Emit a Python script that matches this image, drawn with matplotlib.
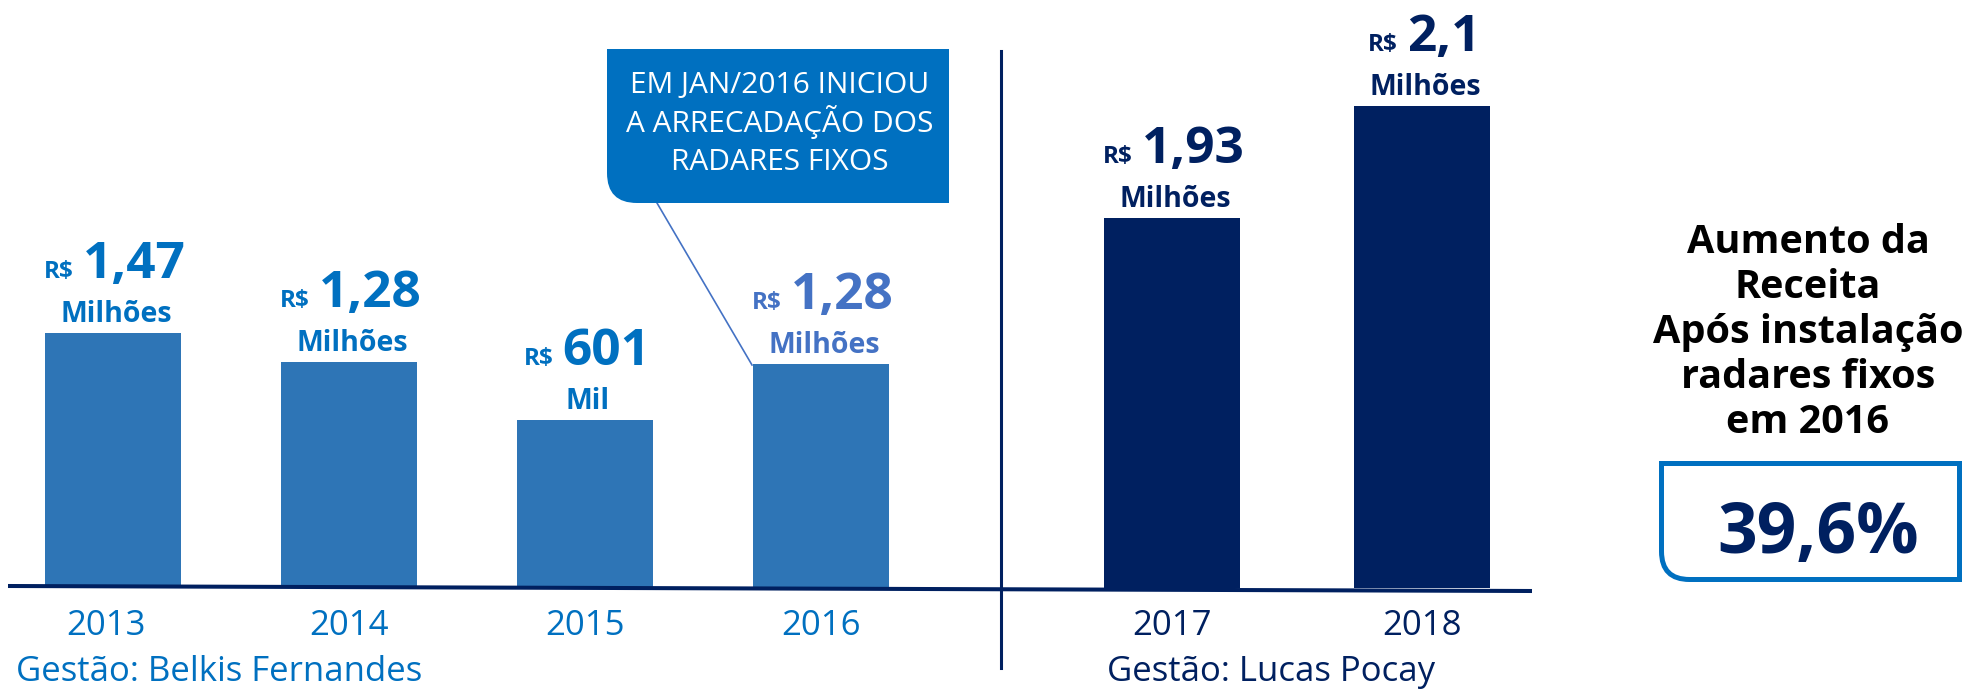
import matplotlib.pyplot as plt
from matplotlib.patches import PathPatch
from matplotlib.path import Path

anos = ['2013', '2014', '2015', '2016', '2017', '2018']
valores = ['1,47', '1,28', '601', '1,28', '1,93', '2,1']
unidades = ['Milhões', 'Milhões', 'Mil', 'Milhões', 'Milhões', 'Milhões']
# altura desenhada das barras (o infográfico original não é proporcional aos valores)
alturas = [1.47, 1.30, 0.97, 1.29, 2.13, 2.78]
gestoes = ['Gestão: Belkis Fernandes', 'Gestão: Lucas Pocay']
titulo_direita = ['Aumento da', 'Receita', 'Após instalação', 'radares fixos', 'em 2016']
aumento = '39,6%'
aviso = ['EM JAN/2016 INICIOU', 'A ARRECADAÇÃO DOS', 'RADARES FIXOS']

AZUL = '#0070C0'
AZUL_BARRA = '#2E75B6'
AZUL_2016 = '#4472C4'
MARINHO = '#002060'
FONTE = 'Open Sans'

cores_barra = [AZUL_BARRA] * 4 + [MARINHO] * 2
cores_rotulo = [AZUL, AZUL, AZUL, AZUL_2016, MARINHO, MARINHO]
cores_ano = [AZUL] * 4 + [MARINHO] * 2

W, H = 1985, 691
BASE = 588.0      # linha de base em pixels (a partir do topo)
ESCALA = 173.5    # pixels por unidade de altura


def py(y_px):
    return (BASE - y_px) / ESCALA


def caixa(x0, y0, x1, y1, r):
    # retângulo com o canto inferior esquerdo arredondado (coordenadas em px)
    verts = [(x0, y0), (x1, y0), (x1, y1), (x0 + r, y1), (x0, y1), (x0, y1 - r), (x0, y0), (x0, y0)]
    codes = [Path.MOVETO, Path.LINETO, Path.LINETO, Path.LINETO,
             Path.CURVE3, Path.CURVE3, Path.LINETO, Path.CLOSEPOLY]
    return Path([(x, py(y)) for x, y in verts], codes)


fig = plt.figure(figsize=(W / 100, H / 100), dpi=100)
ax = fig.add_axes([0, 0, 1, 1])
ax.set_xlim(0, W)
ax.set_ylim(py(H), py(0))
ax.axis('off')

x_centros = [113 + 236 * i for i in range(4)] + [1172, 1422]
ax.bar(x_centros, alturas, width=136, color=cores_barra, zorder=2)

# linha de base (levemente inclinada, como no original) e separador
ax.plot([8, 1532], [py(586), py(591)], color=MARINHO, lw=2.9, zorder=3, solid_capstyle='butt')
ax.plot([1001, 1001], [py(51), py(668)], color=MARINHO, lw=2.2, zorder=3)

renderer = fig.canvas.get_renderer()
for xc, h, val, uni, cor in zip(x_centros, alturas, valores, unidades, cores_rotulo):
    topo = BASE - h * ESCALA
    t1 = ax.text(0, py(topo - 55), 'R$', fontsize=17.5, fontweight='bold', color=cor,
                 family=FONTE, ha='left', va='baseline')
    t2 = ax.text(0, py(topo - 55), val, fontsize=37, fontweight='bold', color=cor,
                 family=FONTE, ha='left', va='baseline')
    w1 = t1.get_window_extent(renderer).width
    w2 = t2.get_window_extent(renderer).width
    inicio = xc + 2 - (w1 + 9 + w2) / 2
    t1.set_x(inicio)
    t2.set_x(inicio + w1 + 9)
    ax.text(xc + 3, py(topo - 11), uni, fontsize=20.5, fontweight='bold', color=cor,
            family=FONTE, ha='center', va='baseline')

for i, (xc, ano, cor) in enumerate(zip(x_centros, anos, cores_ano)):
    desloc = -7 if i == 0 else 0
    ax.text(xc + desloc, py(635), ano, fontsize=25, color=cor, family=FONTE,
            ha='center', va='baseline')

ax.text(16, py(681), gestoes[0], fontsize=25, color=AZUL, family=FONTE, ha='left', va='baseline')
ax.text(1107, py(681), gestoes[1], fontsize=25, color=MARINHO, family=FONTE, ha='left', va='baseline')

# balão do aviso
ax.add_patch(PathPatch(caixa(607, 49, 949, 203, 30), facecolor=AZUL, edgecolor='none', zorder=4))
ax.plot([657, 752], [py(203), py(365)], color=AZUL_2016, lw=1.2, zorder=3)
for i, linha in enumerate(aviso):
    ax.text(780, py(93 + 38.5 * i), linha, fontsize=21.5, color='white', family=FONTE,
            ha='center', va='baseline', zorder=5)

# painel da direita
for i, linha in enumerate(titulo_direita):
    ax.text(1808, py(253 + 45 * i), linha, fontsize=28.5, fontweight='bold', color='black',
            family=FONTE, ha='center', va='baseline')
ax.add_patch(PathPatch(caixa(1661.5, 463.5, 1959.5, 579.5, 28), facecolor='none',
                       edgecolor=AZUL, lw=3.6))
ax.text(1818, py(553), aumento, fontsize=50, fontweight='bold', color=MARINHO,
        family=FONTE, ha='center', va='baseline')

fig.savefig('out.png', dpi=100, facecolor='white')
